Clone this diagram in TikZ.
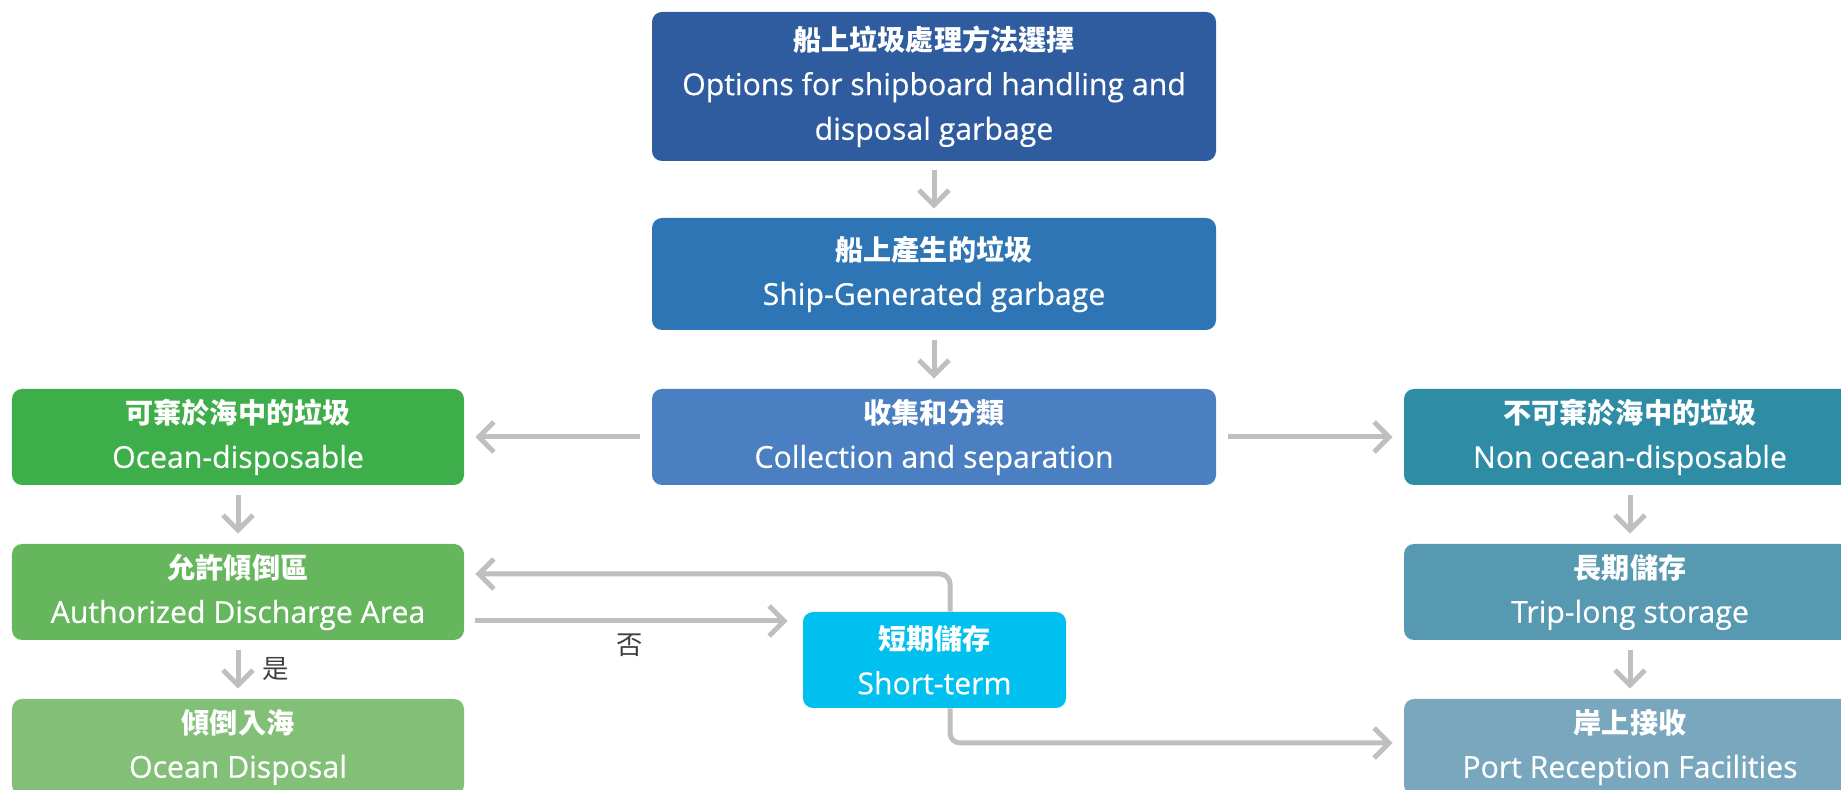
\documentclass[tikz,border=0pt]{standalone}
\usepackage{fontspec}
\setmainfont{Open Sans}
\newfontfamily\engl{Open Sans}[FakeBold=0.5]
\newfontfamily\cjk{Noto Sans CJK TC}
\usetikzlibrary{arrows.meta}

\definecolor{optblue}{RGB}{46,92,158}
\definecolor{genblue}{RGB}{46,117,182}
\definecolor{collblue}{RGB}{74,127,193}
\definecolor{ocgreen}{RGB}{61,174,73}
\definecolor{authgreen}{RGB}{102,182,93}
\definecolor{dispgreen}{RGB}{130,192,119}
\definecolor{nonteal}{RGB}{46,140,165}
\definecolor{tripteal}{RGB}{88,153,178}
\definecolor{portteal}{RGB}{120,167,190}
\definecolor{shortcyan}{RGB}{0,192,240}
\definecolor{arrgray}{RGB}{191,191,191}
\definecolor{lblgray}{RGB}{64,64,64}

\begin{document}
\begin{tikzpicture}
\tikzset{el/.style={rectangle, rounded corners=0.2cm, text=white, align=center, inner sep=0pt,
  minimum width=9.04cm, minimum height=1.92cm, font=\engl\fontsize{17.2}{25.4}\selectfont},
  arr/.style={draw=arrgray, line width=0.1cm, -{Straight Barb[length=0.3cm,width=0.6cm]},
  shorten >=0.2cm, shorten <=0.2cm},
  lbl/.style={text=lblgray, font=\cjk\fontsize{15}{18}\selectfont}}

\clip (0,0) rectangle (36.82,-15.8);

% Main column
\node[el, fill=optblue, minimum width=11.28cm, minimum height=2.98cm] (opt) at (18.68,-1.73)
{{\cjk\bfseries\fontsize{16}{25.4}\selectfont 船上垃圾處理方法選擇}\\Options for shipboard handling and\\disposal garbage};
\node[el, fill=genblue, minimum width=11.28cm, minimum height=2.24cm] (gen) at (18.68,-5.48)
{{\cjk\bfseries\fontsize{16}{25.4}\selectfont 船上產生的垃圾}\\Ship-Generated garbage};
\node[el, fill=collblue, minimum width=11.28cm] (coll) at (18.68,-8.74)
{{\cjk\bfseries\fontsize{16}{25.4}\selectfont 收集和分類}\\Collection and separation};

% Ocean-disposable side
\node[el, fill=ocgreen] (ocd) at (4.76,-8.74)
{{\cjk\bfseries\fontsize{16}{25.4}\selectfont 可棄於海中的垃圾}\\Ocean-disposable};
\node[el, fill=authgreen] (auth) at (4.76,-11.84)
{{\cjk\bfseries\fontsize{16}{25.4}\selectfont 允許傾倒區}\\Authorized Discharge Area};
\node[el, fill=dispgreen] (odis) at (4.76,-14.94)
{{\cjk\bfseries\fontsize{16}{25.4}\selectfont 傾倒入海}\\Ocean Disposal};

% Non ocean-disposable side
\node[el, fill=nonteal] (nod) at (32.6,-8.74)
{{\cjk\bfseries\fontsize{16}{25.4}\selectfont 不可棄於海中的垃圾}\\Non ocean-disposable};
\node[el, fill=tripteal] (tls) at (32.6,-11.84)
{{\cjk\bfseries\fontsize{16}{25.4}\selectfont 長期儲存}\\Trip-long storage};
\node[el, fill=portteal] (prf) at (32.6,-14.94)
{{\cjk\bfseries\fontsize{16}{25.4}\selectfont 岸上接收}\\Port Reception Facilities};

% Short-term storage
\node[el, fill=shortcyan, minimum width=5.26cm] (stt) at (18.69,-13.2)
{{\cjk\bfseries\fontsize{16}{25.4}\selectfont 短期儲存}\\Short-term};

% Connections
\draw[arr, shorten >=0.18cm, shorten <=0.18cm] (opt) -- (gen);
\draw[arr] (gen) -- (coll);
\draw[arr, shorten >=0.22cm, shorten <=0.24cm] (coll) -- (ocd);
\draw[arr, shorten >=0.22cm, shorten <=0.24cm] (coll) -- (nod);

\draw[arr] (ocd) -- (auth);
\draw[arr] (auth) -- (odis);
\draw[arr] (nod) -- (tls);
\draw[arr] (tls) -- (prf);

\draw[arr, shorten >=0.3cm, shorten <=0.22cm] ([yshift=-0.58cm]auth.east) -- ([yshift=-0.58cm]auth.east -| stt.west);
\draw[arr, rounded corners=0.2cm, shorten <=0cm, shorten >=0.22cm] ([xshift=0.31cm]stt.north) |- ([yshift=0.36cm]auth.east);
\draw[arr, rounded corners=0.2cm, shorten <=0cm, shorten >=0.22cm] ([xshift=0.31cm]stt.south) |- ([yshift=0.08cm]prf.west);

\node[lbl] (yes) at (5.52,-13.38) {是};
\node[lbl] (no) at (12.6,-12.9) {否};

\end{tikzpicture}
\end{document}
